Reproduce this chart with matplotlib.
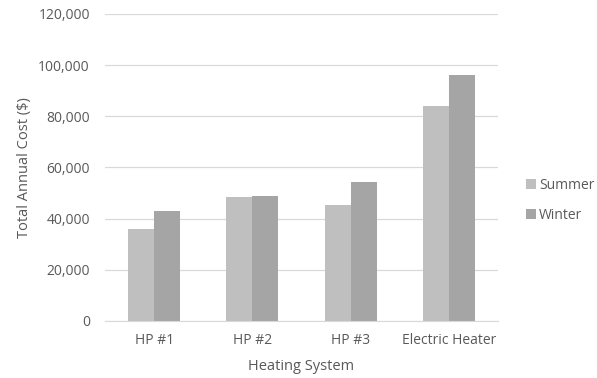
import numpy as np
import matplotlib
matplotlib.use("Agg")
import matplotlib.pyplot as plt
from matplotlib.ticker import FuncFormatter

# costos anuales por sistema de calefaccion
sistemas = ["HP #1", "HP #2", "HP #3", "Electric Heater"]
verano = [35800, 48300, 45300, 84100]
invierno = [42900, 48900, 54300, 96000]

gris_txt = "#595959"
plt.rcParams['font.family'] = ['Open Sans', 'DejaVu Sans']

fig = plt.figure(figsize=(5.97, 3.78), dpi=100)
ax = fig.add_axes([0.176, 0.151, 0.658, 0.812])

x = np.arange(len(sistemas))
w = 0.265
ax.bar(x - w/2, verano, w, color="#bfbfbf", linewidth=0, label="Summer")
ax.bar(x + w/2, invierno, w, color="#a5a5a5", linewidth=0, label="Winter")

ax.set_xlim(-0.5, len(sistemas) - 0.5)
ax.set_ylim(0, 120000)
ax.set_yticks(np.arange(0, 120001, 20000))
ax.yaxis.set_major_formatter(FuncFormatter(lambda v, p: "{:,.0f}".format(v)))
ax.set_xticks(x)
ax.set_xticklabels(sistemas)

ax.grid(axis="y", color="#d9d9d9", linewidth=0.9)
ax.set_axisbelow(True)
for s in ["top", "right", "left"]:
    ax.spines[s].set_visible(False)
ax.spines["bottom"].set_color("#d9d9d9")
ax.tick_params(axis="both", length=0, labelsize=10, colors=gris_txt)
ax.tick_params(axis="y", pad=11)
ax.tick_params(axis="x", pad=9)

ax.set_xlabel("Heating System", fontsize=10.5, color=gris_txt)
ax.set_ylabel("Total Annual Cost ($)", fontsize=10.5, color=gris_txt)
ax.xaxis.set_label_coords(0.5, -0.125)
ax.yaxis.set_label_coords(-0.185, 0.5)

fig.legend(loc="center left", bbox_to_anchor=(0.86, 0.47), frameon=False,
           handlelength=0.7, handleheight=0.7, handletextpad=0.25,
           labelspacing=1.1, fontsize=10, labelcolor=gris_txt)

plt.savefig("out.png", dpi=100)
